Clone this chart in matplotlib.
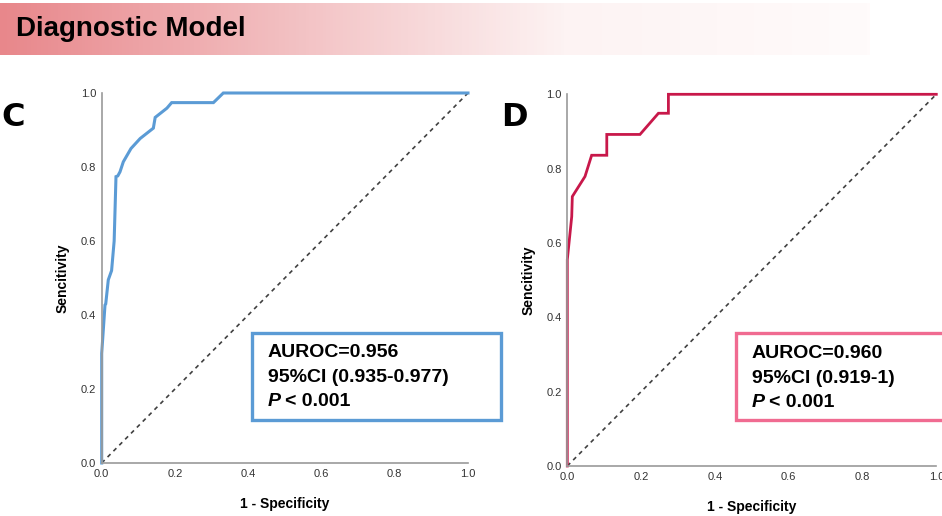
import matplotlib.pyplot as plt
import numpy as np
from matplotlib.patches import Rectangle
from matplotlib.colors import LinearSegmentedColormap

plt.rcParams['font.family'] = ['Liberation Sans', 'DejaVu Sans']

# ROC curve C (1 - specificity, sensitivity)
fpr_c = [0.0, 0.0, 0.009, 0.011, 0.018, 0.027, 0.034, 0.039, 0.044, 0.05, 0.059,
         0.08, 0.105, 0.141, 0.146, 0.178, 0.191, 0.305, 0.332, 1.0]
tpr_c = [0.0, 0.296, 0.427, 0.43, 0.495, 0.52, 0.60, 0.774, 0.776, 0.787, 0.814,
         0.85, 0.877, 0.905, 0.934, 0.959, 0.974, 0.974, 1.0, 1.0]

# ROC curve D
fpr_d = [0.0, 0.0, 0.012, 0.0136, 0.048, 0.066, 0.107, 0.107, 0.197, 0.247, 0.274, 0.274, 1.0]
tpr_d = [0.0, 0.555, 0.671, 0.725, 0.779, 0.836, 0.836, 0.892, 0.892, 0.949, 0.949, 1.0, 1.0]

ticks = [0.0, 0.2, 0.4, 0.6, 0.8, 1.0]
tick_labels = ['0.0', '0.2', '0.4', '0.6', '0.8', '1.0']

stats_c = ['AUROC=0.956', '95%CI (0.935-0.977)', '< 0.001']
stats_d = ['AUROC=0.960', '95%CI (0.919-1)', '< 0.001']

W, H = 942, 516
fig = plt.figure(figsize=(W / 100, H / 100), dpi=100)


def fx(px):
    return px / W


def fy(py):
    return 1 - py / H


# title bar with red-to-white gradient
bar = fig.add_axes([0, fy(55), fx(870), (55 - 3) / H])
cmap = LinearSegmentedColormap.from_list('bar', [(0, '#e8878b'), (0.35, '#f3c3c5'),
                                                 (0.65, '#fdf3f3'), (1, '#fffbfb')])
bar.imshow(np.linspace(0, 1, 256)[None, :], aspect='auto', cmap=cmap, extent=[0, 1, 0, 1])
bar.axis('off')
fig.text(fx(16), fy(29), 'Diagnostic Model', fontsize=20, fontweight='bold',
         va='center', ha='left')


def roc_panel(rect, fpr, tpr, color, lw):
    ax = fig.add_axes(rect)
    ax.plot([0, 1], [0, 1], color='#404040', lw=1.2, ls=(0, (2.5, 2.5)))
    ax.plot(fpr, tpr, color=color, lw=lw, solid_joinstyle='miter', clip_on=False)
    ax.set_xlim(0, 1)
    ax.set_ylim(0, 1)
    ax.set_xticks(ticks, tick_labels)
    ax.set_yticks(ticks, tick_labels)
    ax.tick_params(length=0, labelsize=8, labelcolor='#333333', pad=4)
    for s in ['top', 'right']:
        ax.spines[s].set_visible(False)
    for s in ['left', 'bottom']:
        ax.spines[s].set_color('#9a9a9a')
        ax.spines[s].set_linewidth(1.2)
    ax.set_xlabel('1 - Specificity', fontsize=10, fontweight='bold', labelpad=13)
    ax.set_ylabel('Sencitivity', fontsize=10, fontweight='bold', labelpad=8)
    return ax


ax_c = roc_panel([fx(101.7), fy(463), fx(468 - 101.7), (463 - 93) / H],
                 fpr_c, tpr_c, '#5b9bd5', 2.2)
ax_d = roc_panel([fx(567.3), fy(466), fx(936.3 - 567.3), (466 - 94.3) / H],
                 fpr_d, tpr_d, '#c8184a', 2.0)

fig.text(fx(1), fy(117), 'C', fontsize=23, fontweight='bold', va='center', ha='left',
         family='DejaVu Sans')
fig.text(fx(501), fy(118), 'D', fontsize=23, fontweight='bold', va='center', ha='left',
         family='DejaVu Sans')


def stats_box(x0, x1, y0, y1, edge, lines):
    fig.patches.append(Rectangle((fx(x0), fy(y1)), fx(x1 - x0), (y1 - y0) / H,
                                 transform=fig.transFigure, fill=True, facecolor='white',
                                 edgecolor=edge, lw=2.4, zorder=5))
    tx = fx(x0 + 16)
    fs = 14
    fig.text(tx, fy(y0 + 20), lines[0], fontsize=fs, fontweight='bold', va='center', zorder=6)
    fig.text(tx, fy(y0 + 45), lines[1], fontsize=fs, fontweight='bold', va='center', zorder=6)
    p = fig.text(tx, fy(y0 + 69), 'P', fontsize=fs, fontweight='bold', style='italic',
                 va='center', zorder=6)
    fig.canvas.draw()
    bb = p.get_window_extent()
    fig.text(fx(bb.x1 + 4), fy(y0 + 69), lines[2], fontsize=fs, fontweight='bold',
             va='center', zorder=6)


stats_box(251.7, 500.7, 332.7, 420, '#5b9bd5', stats_c)
stats_box(736, 960, 333.3, 420, '#f06b91', stats_d)

fig.savefig('out.png', dpi=100)
